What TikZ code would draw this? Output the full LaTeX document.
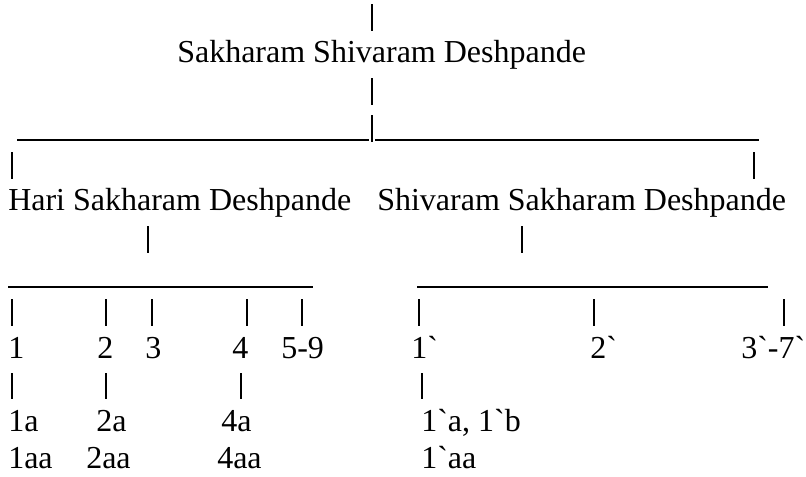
\documentclass[tikz,border=0pt]{standalone}
\usepackage{fontspec}
\setmainfont{Liberation Serif}[Ligatures=TeXOff]
\newcommand\vbarline[4]{\coordinate (#1a) at (#2,#3); \coordinate (#1b) at (#2,#4); \draw[barline] (#1a) -- (#1b);}
\newcommand\hbarline[4]{\coordinate (#1a) at (#2,#4); \coordinate (#1b) at (#3,#4); \draw[underline] (#1a) -- (#1b);}
\begin{document}
\begin{tikzpicture}[x=0.75pt,y=-0.75pt,
  lbl/.style={anchor=base west, inner sep=0pt, font=\fontsize{24}{28}\selectfont},
  barline/.style={line width=1.1pt, black},
  underline/.style={line width=1.1pt, black}]
\fill[white] (0,0) rectangle (806,476);
\useasboundingbox (0,0) rectangle (806,476);
% text nodes
\node[lbl] (ssd) at (177,62.9) {Sakharam Shivaram Deshpande};
\node[lbl] (hsd) at (8,210.8) {Hari Sakharam Deshpande};
\node[lbl] (shsd) at (377,210.8) {Shivaram Sakharam Deshpande};
\node[lbl] (c1) at (8,358.1) {1};
\node[lbl] (c2) at (97,358.1) {2};
\node[lbl] (c3) at (145,358.1) {3};
\node[lbl] (c4) at (232,358.1) {4};
\node[lbl] (c59) at (281,358.1) {5-9};
\node[lbl] (d1) at (411,358.1) {1`};
\node[lbl] (d2) at (590,358.1) {2`};
\node[lbl] (d37) at (741,358.1) {3`-7`};
\node[lbl] (g1a) at (8,431.9) {1a};
\node[lbl] (g2a) at (96,431.9) {2a};
\node[lbl] (g4a) at (221,431.9) {4a};
\node[lbl] (h1ab) at (421,431.9) {1`a, 1`b};
\node[lbl] (g1aa) at (8,468.8) {1aa};
\node[lbl] (g2aa) at (86,468.8) {2aa};
\node[lbl] (g4aa) at (217,468.8) {4aa};
\node[lbl] (h1aa) at (421,468.8) {1`aa};
% vertical bars
\vbarline{v1}{372}{4}{31}
\vbarline{v2}{372}{78}{105}
\vbarline{v3}{372}{115}{142}
\vbarline{v4}{12}{152}{179}
\vbarline{v5}{754}{152}{179}
\vbarline{v6}{148}{226}{253}
\vbarline{v7}{522}{226}{253}
\vbarline{w1}{12}{299}{326}
\vbarline{w2}{106}{299}{326}
\vbarline{w3}{152}{299}{326}
\vbarline{w4}{247}{299}{326}
\vbarline{w5}{302}{299}{326}
\vbarline{w6}{419}{299}{326}
\vbarline{w7}{594}{299}{326}
\vbarline{w8}{784}{299}{326}
\vbarline{x1}{12}{373}{399}
\vbarline{x2}{106}{373}{399}
\vbarline{x3}{241}{373}{399}
\vbarline{x4}{422}{373}{399}
% horizontal underscore lines
\hbarline{u1}{17}{369}{140}
\hbarline{u2}{375}{759}{140}
\hbarline{u3}{8}{313}{287}
\hbarline{u4}{417}{768}{287}
\end{tikzpicture}
\end{document}
